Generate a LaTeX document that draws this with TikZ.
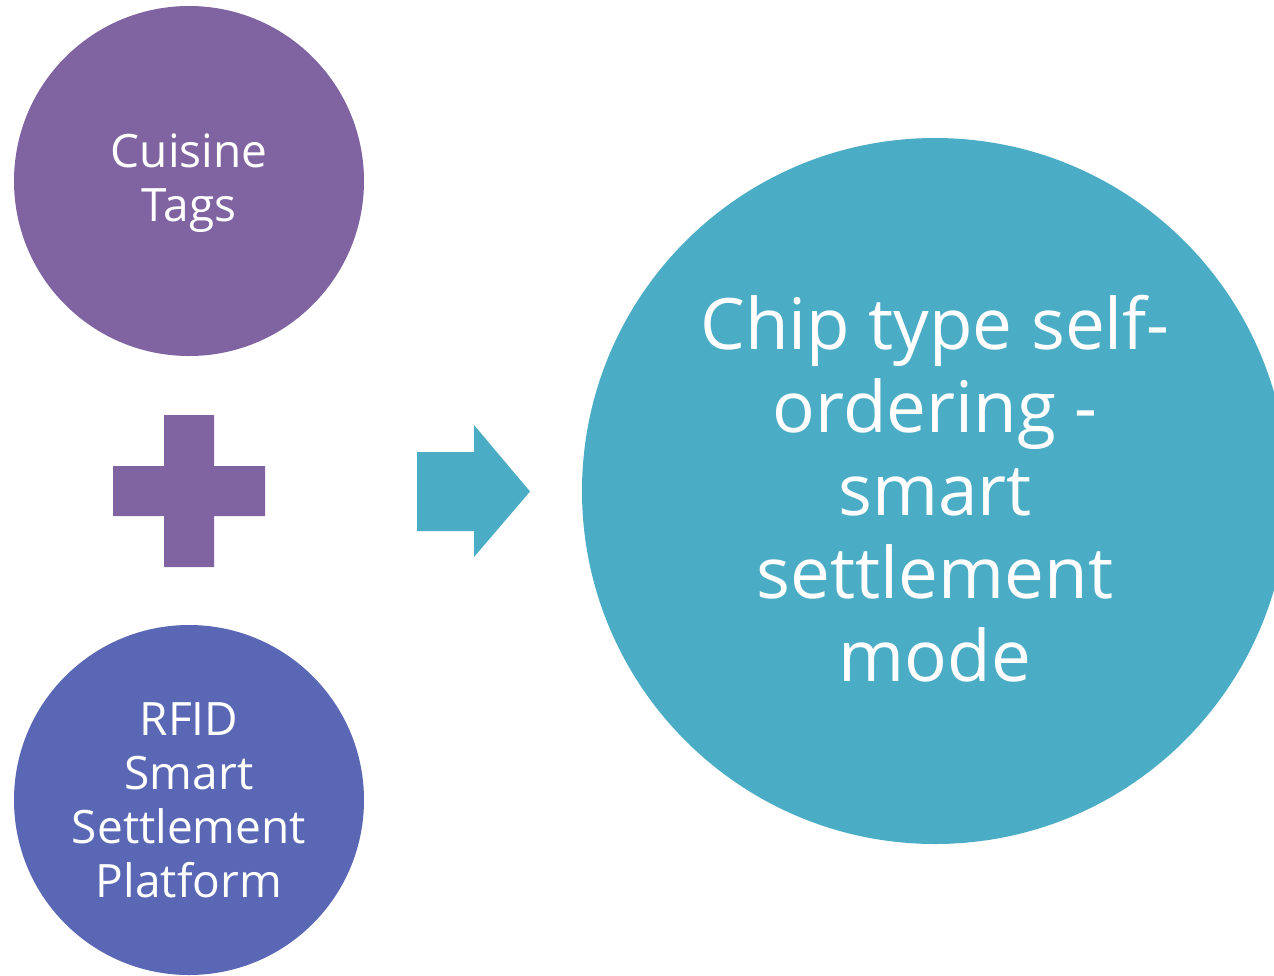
\documentclass[tikz,border=0pt]{standalone}
\usepackage{fontspec}
\setmainfont{Open Sans}
\usetikzlibrary{shapes,arrows}

\begin{document}
\begin{tikzpicture}[x=1pt,y=1pt,yscale=-1,xscale=1]
\useasboundingbox (0,0) rectangle (1274,975);
\clip (0,0) rectangle (1274,975);

%Shape: Circle
\node [circle,draw opacity=0,fill={rgb, 255:red, 128; green, 100; blue, 162 },minimum size=350,inner sep=0] (tags) at (189,181) {};
%Shape: Circle
\node [circle,draw opacity=0,fill={rgb, 255:red, 90; green, 103; blue, 181 },minimum size=350,inner sep=0] (rfid) at (189,800) {};
%Shape: Circle
\node [circle,draw opacity=0,fill={rgb, 255:red, 75; green, 172; blue, 198 },minimum size=706,inner sep=0] (mode) at (935,491) {};

%Shape: Cross
\draw  [draw opacity=0][fill={rgb, 255:red, 128; green, 100; blue, 162 }  ,fill opacity=1 ] (164,415) -- (214,415) -- (214,466) -- (265,466) -- (265,516) -- (214,516) -- (214,567) -- (164,567) -- (164,516) -- (113,516) -- (113,466) -- (164,466) -- cycle ;
%Right Arrow
\draw  [draw opacity=0][fill={rgb, 255:red, 75; green, 172; blue, 198 }  ,fill opacity=1 ] (417,452) -- (474,452) -- (474,425) -- (530,491.5) -- (474,557) -- (474,531) -- (417,531) -- cycle ;

% Text Node
\draw ([yshift=2]tags.center) node [inner sep=0.75pt]  [font=\fontsize{46}{54}\selectfont,color=white] [align=center] {Cuisine\\Tags};
% Text Node
\draw (rfid.center) node [inner sep=0.75pt]  [font=\fontsize{46}{54}\selectfont,color=white] [align=center] {RFID\\Smart\\Settlement\\Platform};
% Text Node
\draw ([yshift=-2]mode.center) node [inner sep=0.75pt]  [font=\fontsize{71}{83}\selectfont,color=white] [align=center] {Chip type self-\\ordering -\\smart\\settlement\\mode};

\end{tikzpicture}
\end{document}
